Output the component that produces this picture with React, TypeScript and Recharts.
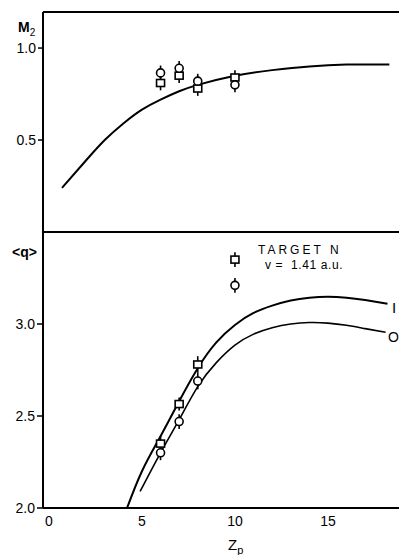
import React from "react";
import {
  ComposedChart,
  Line,
  Scatter,
  ErrorBar,
  XAxis,
  YAxis,
  ReferenceLine,
} from "recharts";

// Z_p axis
const zpTicks = [0, 5, 10, 15];
const zpDomain = [-0.32, 18.82];

// upper panel: M2
const m2Ticks = [0.5, 1.0];
const m2Domain = [0, 1.196];
const m2Curve = [
  { x: 0.7, y: 0.24 },
  { x: 2, y: 0.39 },
  { x: 3, y: 0.5 },
  { x: 4, y: 0.59 },
  { x: 5, y: 0.665 },
  { x: 6, y: 0.72 },
  { x: 7, y: 0.765 },
  { x: 8, y: 0.8 },
  { x: 10, y: 0.85 },
  { x: 12, y: 0.88 },
  { x: 14, y: 0.9 },
  { x: 16, y: 0.91 },
  { x: 18.3, y: 0.91 },
];
const m2Squares = [
  { x: 6, y: 0.81, err: 0.04 },
  { x: 7, y: 0.85, err: 0.04 },
  { x: 8, y: 0.78, err: 0.04 },
  { x: 10, y: 0.84, err: 0.04 },
];
const m2Circles = [
  { x: 6, y: 0.865, err: 0.04 },
  { x: 7, y: 0.89, err: 0.04 },
  { x: 8, y: 0.82, err: 0.04 },
  { x: 10, y: 0.8, err: 0.04 },
];

// lower panel: <q>
const qTicks = [2.0, 2.5, 3.0];
const qDomain = [2.0, 3.5];
const qUpper = [
  { x: 4.2, y: 2.0 },
  { x: 5, y: 2.2 },
  { x: 6, y: 2.39 },
  { x: 7, y: 2.58 },
  { x: 8, y: 2.76 },
  { x: 9, y: 2.9 },
  { x: 10, y: 2.995 },
  { x: 11, y: 3.06 },
  { x: 12, y: 3.1 },
  { x: 13, y: 3.128 },
  { x: 14, y: 3.143 },
  { x: 15, y: 3.148 },
  { x: 16, y: 3.143 },
  { x: 17, y: 3.13 },
  { x: 18.2, y: 3.11 },
];
const qLower = [
  { x: 4.9, y: 2.09 },
  { x: 6, y: 2.3 },
  { x: 7, y: 2.48 },
  { x: 8, y: 2.66 },
  { x: 9, y: 2.79 },
  { x: 10, y: 2.885 },
  { x: 11, y: 2.945 },
  { x: 12, y: 2.98 },
  { x: 13, y: 3.0 },
  { x: 14, y: 3.008 },
  { x: 15, y: 3.005 },
  { x: 16, y: 2.993 },
  { x: 17, y: 2.975 },
  { x: 18.1, y: 2.955 },
];
const qSquares = [
  { x: 6, y: 2.35, err: 0.04 },
  { x: 7, y: 2.565, err: 0.035 },
  { x: 8, y: 2.78, err: 0.045 },
];
const qCircles = [
  { x: 6, y: 2.3, err: 0.04 },
  { x: 7, y: 2.47, err: 0.04 },
  { x: 8, y: 2.69, err: 0.045 },
];
const legendSquare = [{ x: 10, y: 3.35, err: 0.04 }];
const legendCircle = [{ x: 10, y: 3.21, err: 0.04 }];

const font = "'Liberation Sans', Arial, sans-serif";
const tickStyle = { fill: "#000", fontSize: 14, fontFamily: font };

const SquareMark = (p: any) => (
  <rect
    x={p.cx - 4}
    y={p.cy - 3.5}
    width={8}
    height={7}
    fill="#fff"
    stroke="#000"
    strokeWidth={1.6}
  />
);
const CircleMark = (p: any) => (
  <circle cx={p.cx} cy={p.cy} r={4} fill="#fff" stroke="#000" strokeWidth={1.6} />
);

const fmt = (v: number) => v.toFixed(1);

export default function App() {
  const txt: React.CSSProperties = {
    position: "absolute",
    fontFamily: font,
    color: "#000",
    whiteSpace: "nowrap",
    lineHeight: 1,
  };
  const err = (
    <ErrorBar dataKey="err" direction="y" width={0} stroke="#000" strokeWidth={1.6} />
  );
  return (
    <div
      style={{
        position: "absolute",
        left: 0,
        top: 0,
        width: 399,
        height: 555,
        background: "#fff",
        overflow: "hidden",
      }}
    >
      {/* top panel */}
      <div style={{ position: "absolute", left: 0, top: 0 }}>
        <ComposedChart
          width={399}
          height={240}
          margin={{ top: 12, right: 0, bottom: 8, left: 0 }}
        >
          <XAxis
            dataKey="x"
            type="number"
            domain={zpDomain}
            allowDataOverflow
            hide
          />
          <YAxis
            type="number"
            domain={m2Domain}
            ticks={m2Ticks}
            tickFormatter={fmt}
            allowDataOverflow
            width={43}
            tickSize={5}
            tickMargin={2}
            tick={tickStyle}
            tickLine={{ stroke: "#000", strokeWidth: 1.5 }}
            axisLine={{ stroke: "#000", strokeWidth: 2 }}
          />
          <ReferenceLine y={m2Domain[1]} stroke="#000" strokeWidth={2} />
          <ReferenceLine y={m2Domain[0]} stroke="#000" strokeWidth={2} />
          <Line
            data={m2Curve}
            dataKey="y"
            type="natural"
            stroke="#000"
            strokeWidth={2}
            dot={false}
            isAnimationActive={false}
          />
          <Scatter data={m2Squares} dataKey="y" shape={SquareMark} isAnimationActive={false}>
            {err}
          </Scatter>
          <Scatter data={m2Circles} dataKey="y" shape={CircleMark} isAnimationActive={false}>
            {err}
          </Scatter>
        </ComposedChart>
      </div>

      {/* bottom panel */}
      <div style={{ position: "absolute", left: 0, top: 226 }}>
        <ComposedChart
          width={399}
          height={329}
          margin={{ top: 6, right: 0, bottom: 27, left: 0 }}
        >
          <XAxis
            dataKey="x"
            type="number"
            domain={zpDomain}
            ticks={zpTicks}
            allowDataOverflow
            height={20}
            tickSize={0}
            tickMargin={8}
            tickLine={false}
            tick={tickStyle}
            axisLine={{ stroke: "#000", strokeWidth: 2 }}
          />
          <YAxis
            type="number"
            domain={qDomain}
            ticks={qTicks}
            tickFormatter={fmt}
            allowDataOverflow
            width={43}
            tickSize={6}
            tickMargin={2}
            tick={tickStyle}
            tickLine={{ stroke: "#000", strokeWidth: 1.5 }}
            axisLine={{ stroke: "#000", strokeWidth: 2 }}
          />
          <ReferenceLine y={qDomain[1]} stroke="#000" strokeWidth={2} />
          <Line
            data={qUpper}
            dataKey="y"
            type="natural"
            stroke="#000"
            strokeWidth={2}
            dot={false}
            isAnimationActive={false}
          />
          <Line
            data={qLower}
            dataKey="y"
            type="natural"
            stroke="#000"
            strokeWidth={1.6}
            dot={false}
            isAnimationActive={false}
          />
          <Scatter data={qSquares} dataKey="y" shape={SquareMark} isAnimationActive={false}>
            {err}
          </Scatter>
          <Scatter data={qCircles} dataKey="y" shape={CircleMark} isAnimationActive={false}>
            {err}
          </Scatter>
          <Scatter data={legendSquare} dataKey="y" shape={SquareMark} isAnimationActive={false}>
            {err}
          </Scatter>
          <Scatter data={legendCircle} dataKey="y" shape={CircleMark} isAnimationActive={false}>
            {err}
          </Scatter>
        </ComposedChart>
      </div>

      {/* axis titles and annotations */}
      <div style={{ ...txt, left: 18, top: 20, fontSize: 14, fontWeight: "bold" }}>
        M<sub style={{ fontSize: 10, fontWeight: "normal" }}>2</sub>
      </div>
      <div style={{ ...txt, left: 12, top: 245, fontSize: 14, fontWeight: "bold" }}>
        &lt;q&gt;
      </div>
      <div style={{ ...txt, left: 228, top: 537, fontSize: 15 }}>
        Z<sub style={{ fontSize: 11 }}>p</sub>
      </div>
      <div style={{ ...txt, left: 258, top: 244, fontSize: 12, letterSpacing: 3 }}>
        TARGET N
      </div>
      <div style={{ ...txt, left: 265, top: 259, fontSize: 12, letterSpacing: 0.6 }}>
        v = &nbsp;1.41 a.u.
      </div>
      <div style={{ ...txt, left: 392, top: 300, fontSize: 15 }}>I</div>
      <div style={{ ...txt, left: 388, top: 330, fontSize: 14 }}>O</div>
    </div>
  );
}
